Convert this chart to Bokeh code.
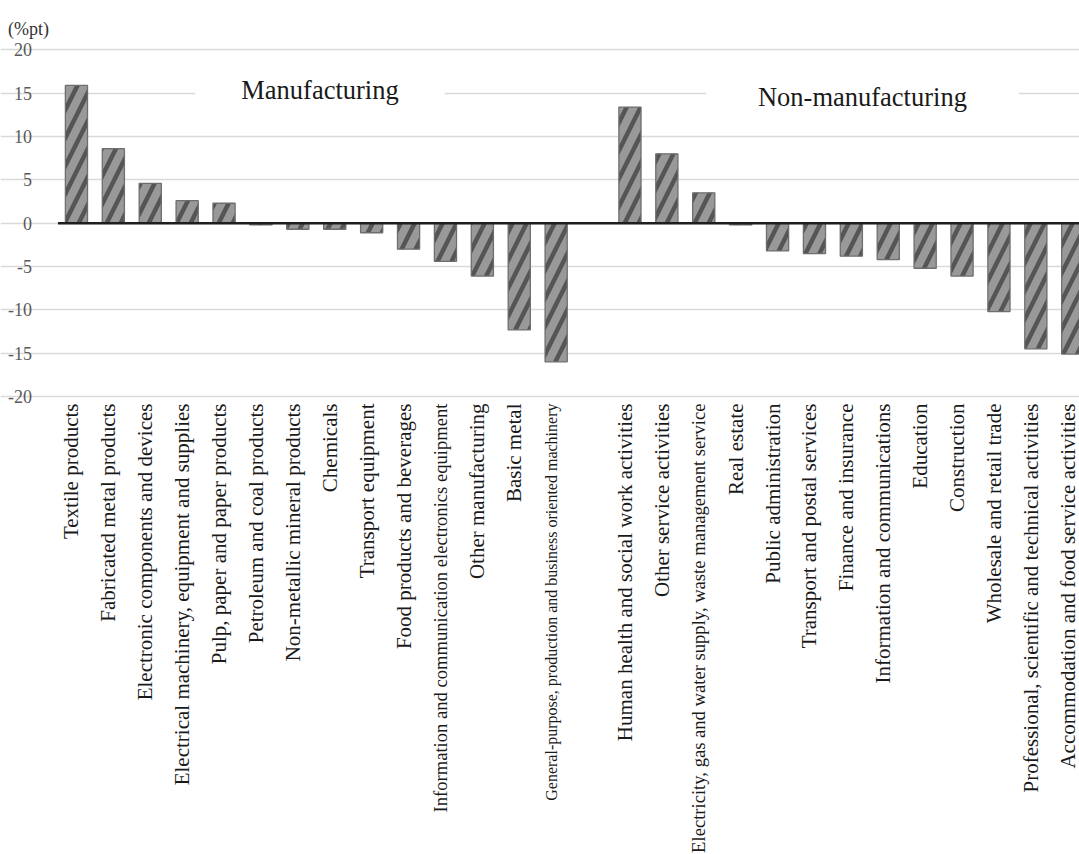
import math
from bokeh.plotting import figure
from bokeh.models import Range1d, FixedTicker, Grid, Label, ColumnDataSource
from bokeh.embed import file_html
from bokeh.resources import INLINE

# ---------------- data ----------------
manufacturing = [
    "Textile products",
    "Fabricated metal products",
    "Electronic components and devices",
    "Electrical machinery, equipment and supplies",
    "Pulp, paper and paper products",
    "Petroleum and coal products",
    "Non-metallic mineral products",
    "Chemicals",
    "Transport equipment",
    "Food products and beverages",
    "Information and communication electronics equipment",
    "Other manufacturing",
    "Basic metal",
    "General-purpose, production and business oriented machinery",
]
manufacturing_values = [15.9, 8.6, 4.6, 2.6, 2.3, -0.2, -0.7, -0.7, -1.1, -3.0,
                        -4.4, -6.1, -12.3, -16.0]

non_manufacturing = [
    "Human health and social work activities",
    "Other service activities",
    "Electricity, gas and water supply, waste management service",
    "Real estate",
    "Public administration",
    "Transport and postal services",
    "Finance and insurance",
    "Information and communications",
    "Education",
    "Construction",
    "Wholesale and retail trade",
    "Professional, scientific and technical activities",
    "Accommodation and food service activities",
]
non_manufacturing_values = [13.4, 8.0, 3.5, -0.2, -3.2, -3.5, -3.8, -4.2, -5.2,
                            -6.1, -10.2, -14.5, -15.1]

y_ticks = [-20, -15, -10, -5, 0, 5, 10, 15, 20]
y_tick_labels = ["-20", "-15", "-10", "-5", "0", "5", "10", "15", "20"]
group_labels = ["Manufacturing", "Non-manufacturing"]
unit_label = "(%pt)"

# ---------------- styles / layout ----------------
W, H = 1079, 854
LEFT_PX = 57.5      # left edge of first category slot
SLOT_PX = 36.9      # width of one category slot
ZERO_PX = 222.7     # pixel row of the zero line
UNIT_PX = 8.667     # pixels per %pt
GAP_SLOTS = 1
DEFAULT_LABEL_SIZE = "21px"
small_label_sizes = {
    "Information and communication electronics equipment": "18.6px",
    "General-purpose, production and business oriented machinery": "16px",
    "Electricity, gas and water supply, waste management service": "18.6px",
}
SERIF = "Liberation Serif"
SANS = "Noto Sans CJK JP"

names = manufacturing + non_manufacturing
values = manufacturing_values + non_manufacturing_values
positions = [i + 0.5 for i in range(len(manufacturing))] + \
            [len(manufacturing) + GAP_SLOTS + i + 0.5 for i in range(len(non_manufacturing))]
n_slots = len(manufacturing) + GAP_SLOTS + len(non_manufacturing)

x_range = Range1d(-LEFT_PX / SLOT_PX, (W - LEFT_PX) / SLOT_PX)
y_range = Range1d(-(H - ZERO_PX) / UNIT_PX, ZERO_PX / UNIT_PX)

p = figure(width=W, height=H, output_backend="svg", toolbar_location=None,
           x_range=x_range, y_range=y_range,
           x_axis_location=None, y_axis_location=None,
           min_border=0)
p.outline_line_color = None
p.background_fill_color = "white"
p.border_fill_color = "white"
p.grid.grid_line_color = None
p.grid.visible = False

# horizontal gridlines (only over the category area)
p.add_layout(Grid(dimension=1, ticker=FixedTicker(ticks=y_ticks),
                  bounds=(0, n_slots), grid_line_color="#d9d9d9",
                  grid_line_width=1.3))

# bars
bar_src = ColumnDataSource(dict(x=positions, top=values))
p.vbar(x="x", top="top", bottom=0, width=0.6, source=bar_src,
       fill_color="#999999", line_color="#6e6e6e", line_width=1.3,
       hatch_pattern="/", hatch_color="#555555", hatch_weight=4.5, hatch_scale=28)

# zero line
p.segment(x0=[0], x1=[n_slots], y0=[0], y1=[0], line_color="#1f1f1f", line_width=2.5)

# y tick labels
ytick_src = ColumnDataSource(dict(y=y_ticks, text=y_tick_labels))
p.text(x=0, y="y", text="text", source=ytick_src, x_offset=-26,
       text_align="right", text_baseline="middle", text_font=SANS,
       text_font_size="18px", text_color="#595959")

# category labels
lab_src = ColumnDataSource(dict(
    x=positions, text=names,
    size=[small_label_sizes.get(nm, DEFAULT_LABEL_SIZE) for nm in names]))
p.text(x="x", y=y_ticks[0], text="text", source=lab_src, x_offset=-5, y_offset=7,
       angle=math.pi / 2, text_align="right", text_baseline="middle",
       text_font=SERIF, text_font_size="size", text_color="#1a1a1a")

# unit label
p.text(x=[0], y=[y_ticks[-1]], text=[unit_label], x_offset=-50, y_offset=-21,
       text_align="left", text_baseline="middle", text_font=SANS,
       text_font_size="18px", text_color="#333333")

# group labels
p.add_layout(Label(x=7.1, y=15.4, text=group_labels[0], text_align="center",
                   text_baseline="middle", text_font=SERIF,
                   text_font_size="26.5px", text_color="#1a1a1a",
                   background_fill_color="white", padding=(46, 3)))
p.add_layout(Label(x=21.8, y=14.6, text=group_labels[1], text_align="center",
                   text_baseline="middle", text_font=SERIF,
                   text_font_size="26.5px", text_color="#1a1a1a",
                   background_fill_color="white", padding=(52, 3)))

open("out.html", "w").write(file_html(p, INLINE))
